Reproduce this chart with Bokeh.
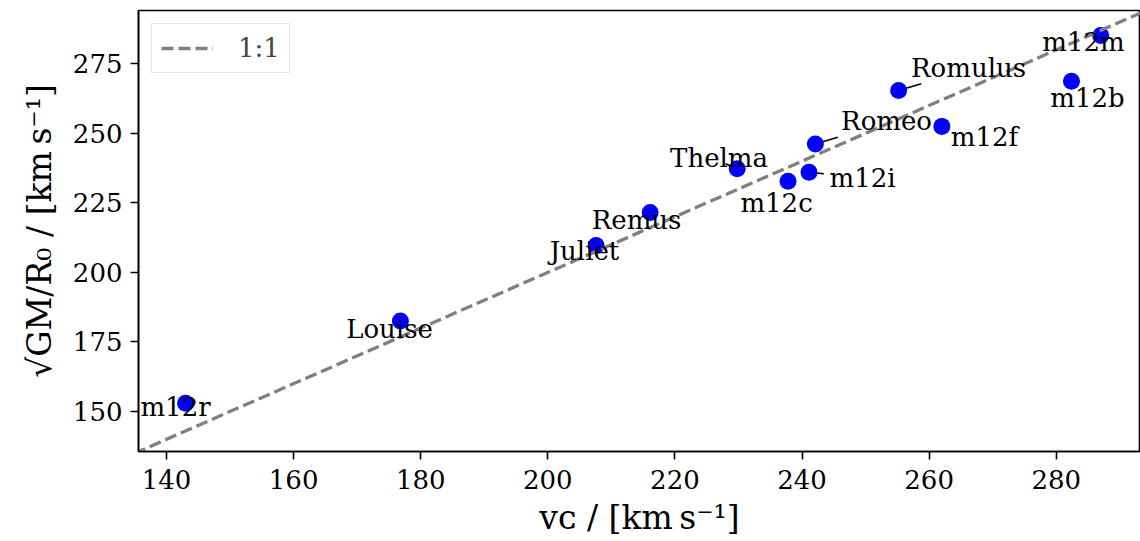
from bokeh.plotting import figure
from bokeh.models import Legend, LegendItem, FixedTicker, ColumnDataSource, Range1d
from bokeh.core.properties import value
from bokeh.embed import file_html
from bokeh.resources import INLINE

# ---------------- data ----------------
names = ["m12r", "Louise", "Juliet", "Remus", "Thelma", "m12c",
         "m12i", "Romeo", "Romulus", "m12f", "m12b", "m12m"]
v_c = [143.0, 176.8, 207.6, 216.1, 229.8, 237.8,
       241.1, 242.1, 255.2, 262.0, 282.4, 287.0]
v_gm = [153.0, 182.5, 209.7, 221.5, 237.3, 232.8,
        236.0, 246.2, 265.4, 252.5, 268.7, 285.2]

# annotation text anchors (centre x, baseline y) in data units
label_x = [141.42, 175.09, 205.77, 213.96, 226.94, 235.99,
           249.52, 253.30, 266.20, 268.72, 284.92, 284.30]
label_y = [151.7, 179.7, 207.8, 218.8, 241.1, 224.8,
           234.1, 254.5, 273.5, 248.8, 262.7, 282.9]

# annotation arrows: from point to the text side
arrow_names = ["Thelma", "m12i", "Romeo", "Romulus"]
arrow_x = [227.96, 243.43, 245.63, 258.76]
arrow_y = [239.05, 235.45, 248.61, 267.81]

one_to_one = [130.0, 300.0]

x_ticks = [140, 160, 180, 200, 220, 240, 260, 280]
y_ticks = [150, 175, 200, 225, 250, 275]

x_label = "v\u1d04 / [km\u2009s\u207b\u00b9]"
y_label = "\u221aGM/R\u2080 / [km\u2009s\u207b\u00b9]"

FONT = "DejaVu Serif"

# ---------------- figure ----------------
p = figure(width=1140, height=541,
           x_range=Range1d(135.59, 293.26), y_range=Range1d(135.62, 294.16),
           output_backend="svg", toolbar_location=None,
           min_border_left=138, min_border_right=0,
           min_border_top=10, min_border_bottom=90)
p.background_fill_color = "white"
p.border_fill_color = "white"
p.outline_line_color = "black"
p.outline_line_width = 1.6
p.grid.visible = False

for ax, ticks in ((p.xaxis, x_ticks), (p.yaxis, y_ticks)):
    ax.ticker = FixedTicker(ticks=ticks)
    ax.minor_tick_line_color = None
    ax.major_tick_in = 0
    ax.major_tick_out = 8
    ax.major_tick_line_width = 1.6
    ax.axis_line_width = 1.6
    ax.axis_line_color = "black"
    ax.major_tick_line_color = "black"
    ax.major_label_text_font = FONT
    ax.major_label_text_font_size = "26px"
    ax.major_label_text_color = "black"
    ax.axis_label_text_font = FONT
    ax.axis_label_text_font_size = "33px"
    ax.axis_label_text_font_style = "normal"
    ax.axis_label_text_color = "black"
p.xaxis.major_label_standoff = 10
p.yaxis.major_label_standoff = 8
p.xaxis.axis_label = x_label
p.yaxis.axis_label = y_label
p.xaxis.axis_label_standoff = 6
p.yaxis.axis_label_standoff = 11

# arrows (drawn under points)
idx = {n: i for i, n in enumerate(names)}
seg_src = ColumnDataSource(dict(
    x0=[v_c[idx[n]] for n in arrow_names],
    y0=[v_gm[idx[n]] for n in arrow_names],
    x1=arrow_x, y1=arrow_y))
p.segment("x0", "y0", "x1", "y1", source=seg_src, line_color="black", line_width=1.6)

# points
p.scatter(v_c, v_gm, size=17, fill_color="#0000ff", line_color=None)

# 1:1 line
line_r = p.line(one_to_one, one_to_one, line_color="#808080", line_width=3.3,
                line_dash="12 5")

# names
txt_src = ColumnDataSource(dict(x=label_x, y=label_y, t=names))
p.text("x", "y", text="t", source=txt_src, text_font=value(FONT),
       text_font_size="26px", text_align="center", text_baseline="alphabetic",
       text_color="black")

legend = Legend(items=[LegendItem(label="1:1", renderers=[line_r])],
                location="top_left", margin=13, padding=9,
                glyph_width=52, glyph_height=30, label_standoff=25,
                label_text_font=FONT, label_text_font_size="26px",
                border_line_color="#cccccc", border_line_width=1.5,
                background_fill_alpha=0.8, spacing=0)
p.add_layout(legend)

open("out.html", "w").write(file_html(p, INLINE))
